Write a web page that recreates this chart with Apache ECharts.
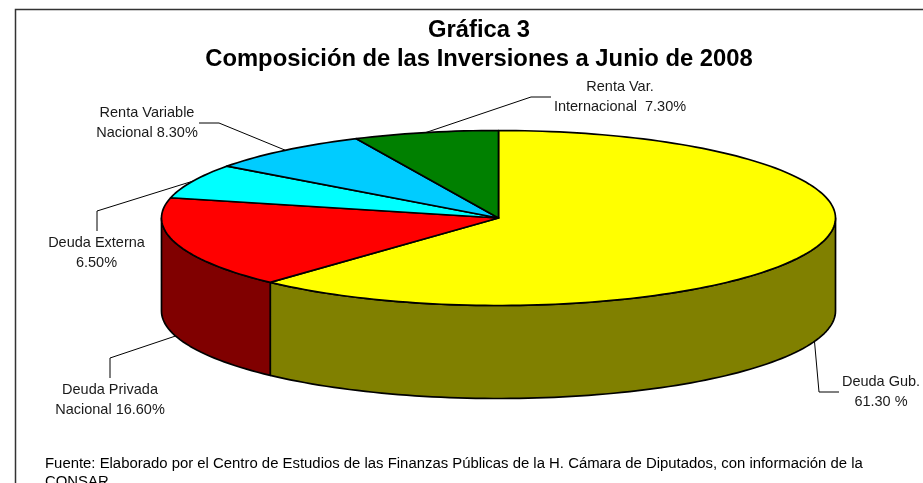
<!DOCTYPE html>
<html><head><meta charset="utf-8">
<style>html,body{margin:0;padding:0;background:#fff}#c{width:923px;height:483px}</style>
<script src="https://cdn.jsdelivr.net/npm/echarts@6/dist/echarts.min.js"></script>
</head><body><div id="c"></div>
<script>
// Data, clockwise from 12 o'clock
const sliceNames = ['Deuda Gub.', 'Deuda Privada Nacional', 'Deuda Externa', 'Renta Variable Nacional', 'Renta Var. Internacional'];
const sliceValues = [61.3, 16.6, 6.5, 8.3, 7.3];
const labelTexts = ['Deuda Gub.\n61.30 %', 'Deuda Privada\nNacional 16.60%', 'Deuda Externa\n6.50%', 'Renta Variable\nNacional 8.30%', 'Renta Var.\nInternacional  7.30%'];
const titleText = 'Gráfica 3\nComposición de las Inversiones a Junio de 2008';
const footerText = 'Fuente: Elaborado por el Centro de Estudios de las Finanzas Públicas de la H. Cámara de Diputados, con información de la\nCONSAR.';

// Styles and layout
const topColors = ['#ffff00', '#ff0000', '#00ffff', '#00ccff', '#008000'];
const sideColors = ['#808000', '#800000', '#008080', '#006699', '#004000'];
const CX = 498.5, CY = 218, RX = 337, RY = 87.5, DEPTH = 93;
const FONT = '"Liberation Sans", Arial, sans-serif';
// label centre, elbow and end of each leader, by slice
const labelPos = [[881, 391], [110, 399], [96.5, 252], [147, 122], [620, 96]];
const leaderMid = [[[819, 392], [839, 392]], [[110, 358], [110, 378]], [[97, 211], [97, 231]], [[219, 123], [199, 123]], [[531, 97], [551, 97]]];

const total = sliceValues.reduce((a, b) => a + b, 0);
const rad = d => d * Math.PI / 180;
// value angle -> visual angle (slight perspective of the 3D view, on the left half)
const warp = d => d > 180 ? d - 3 * Math.sin(rad(d)) : d;
const pt = (d, dy) => [CX + RX * Math.sin(rad(d)), CY - RY * Math.cos(rad(d)) + (dy || 0)];
function arc(a, b, dy) {
  const out = [], n = Math.max(2, Math.ceil(Math.abs(b - a) / 1.5));
  for (let i = 0; i <= n; i++) out.push(pt(a + (b - a) * i / n, dy));
  return out;
}
const stroke = { stroke: '#000', lineWidth: 1.7, lineJoin: 'round' };

function renderSlice(params, api) {
  const i = params.dataIndex;
  let sum = 0;
  for (let k = 0; k < i; k++) sum += sliceValues[k];
  const a0 = sum / total * 360, a1 = a0 + api.value(0) / total * 360;
  const v0 = warp(a0), v1 = warp(a1), mid = warp((a0 + a1) / 2);
  const children = [];
  const w0 = Math.max(v0, 90), w1 = Math.min(v1, 270);
  if (w1 > w0) {
    children.push({ type: 'polygon',
      shape: { points: arc(w0, w1, 0).concat(arc(w1, w0, DEPTH)) },
      style: Object.assign({ fill: sideColors[i] }, stroke) });
  }
  children.push({ type: 'polygon',
    shape: { points: [[CX, CY]].concat(arc(v0, v1, 0)) },
    style: Object.assign({ fill: topColors[i] }, stroke) });
  const front = mid > 90 && mid < 270;
  const anchor = pt(mid, front ? DEPTH : 0);
  children.push({ type: 'polyline', z2: 5, silent: true,
    shape: { points: [anchor].concat(leaderMid[i]) },
    style: { stroke: '#000', lineWidth: 1, fill: null } });
  children.push({ type: 'text', z2: 6, silent: true,
    style: { text: labelTexts[i], x: labelPos[i][0], y: labelPos[i][1] + 1, align: 'center', verticalAlign: 'middle',
      font: '14.5px ' + FONT, lineHeight: 20, fill: '#1a1a1a' } });
  return { type: 'group', children };
}

const chart = echarts.init(document.getElementById('c'), null, { renderer: 'canvas' });
chart.setOption({
  animation: false,
  backgroundColor: '#fff',
  title: { text: titleText, left: 474, top: 11, textAlign: 'center',
    textStyle: { fontFamily: FONT, fontSize: 23.8, fontWeight: 'bold', color: '#000', lineHeight: 29 } },
  graphic: [
    { type: 'polyline', silent: true, shape: { points: [[15.5, 483], [15.5, 9.5], [923, 9.5]] },
      style: { stroke: '#333', lineWidth: 1.5, fill: null } },
    { type: 'text', silent: true, left: 45, top: 455,
      style: { text: footerText, font: '14.9px ' + FONT, lineHeight: 18, fill: '#000' } }
  ],
  series: [{ type: 'custom', coordinateSystem: 'none', renderItem: renderSlice,
    data: sliceValues.map((v, i) => ({ name: sliceNames[i], value: [v] })) }]
});
</script></body></html>
